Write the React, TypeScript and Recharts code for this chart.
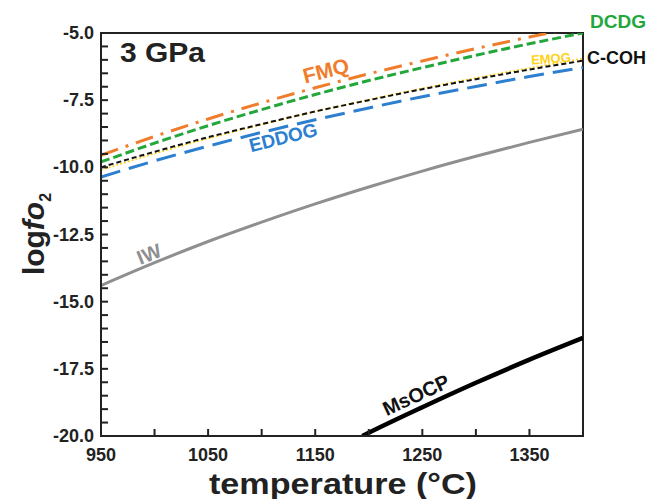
import { LineChart, Line, XAxis, YAxis } from 'recharts'

const temps = [950, 1000, 1050, 1100, 1150, 1200, 1250, 1300, 1350, 1400]
const fmq = [-9.55, -8.85, -8.2, -7.6, -7.04, -6.52, -6.04, -5.58, -5.15, -4.75]
const dcdg = [-9.8, -9.1, -8.45, -7.85, -7.29, -6.77, -6.29, -5.83, -5.4, -5.0]
const ccoh = [-10.0, -9.42, -8.88, -8.39, -7.92, -7.5, -7.09, -6.72, -6.36, -6.03]
const emog = [-10.1, -9.49, -8.93, -8.41, -7.93, -7.48, -7.06, -6.67, -6.3, -5.95]
const eddog = [-10.36, -9.76, -9.21, -8.7, -8.23, -7.79, -7.37, -6.99, -6.62, -6.28]
const iw = [-14.4, -13.55, -12.76, -12.04, -11.36, -10.73, -10.14, -9.59, -9.07, -8.58]
const msocpTemps = [1194, 1200, 1250, 1300, 1350, 1400]
const msocp = [-20.0, -19.88, -18.93, -18.02, -17.16, -16.35]

const xTicks = [950, 1000, 1050, 1100, 1150, 1200, 1250, 1300, 1350, 1400]
const xLabels = [950, 1050, 1150, 1250, 1350]
const yTicks = [-20, -19.5, -19, -18.5, -18, -17.5, -17, -16.5, -16, -15.5, -15, -14.5, -14, -13.5, -13, -12.5, -12, -11.5, -11, -10.5, -10, -9.5, -9, -8.5, -8, -7.5, -7, -6.5, -6, -5.5, -5]
const yLabels = [-20, -17.5, -15, -12.5, -10, -7.5, -5]

const W = 649
const H = 499
const LEFT = 101
const RIGHT = 583
const TOP = 33
const BOTTOM = 436
const FONT = '"Liberation Sans", Arial, sans-serif'
const AXIS = '#222'

const toRows = (xs: number[], ys: number[]) => xs.map((t, i) => ({ t, v: ys[i] }))

function YTick({ y, payload }: any) {
  const v = payload.value
  const major = yLabels.includes(v)
  return (
    <g>
      <rect x={LEFT} y={y - 1} width={7} height={2} fill={AXIS} />
      {major && (
        <text x={LEFT - 7} y={y} dy={6} textAnchor="end" fontSize={18} fontWeight="bold" fill="#222" fontFamily={FONT}>
          {v.toFixed(1)}
        </text>
      )}
    </g>
  )
}

function XTick({ x, payload }: any) {
  const v = payload.value
  const major = xLabels.includes(v)
  return (
    <g>
      <rect x={x - 1} y={BOTTOM - 7} width={2} height={7} fill={AXIS} />
      {major && (
        <text x={x} y={BOTTOM + 25} textAnchor="middle" fontSize={18} fontWeight="bold" fill="#222" fontFamily={FONT}>
          {v}
        </text>
      )}
    </g>
  )
}

export default function App() {
  return (
    <div style={{ position: 'absolute', left: 0, top: 0 }}>
      <LineChart width={W} height={H} margin={{ top: TOP, right: W - RIGHT, bottom: 0, left: 0 }}>
        <XAxis
          dataKey="t"
          type="number"
          domain={[950, 1400]}
          ticks={xTicks}
          allowDataOverflow
          height={H - BOTTOM}
          axisLine={{ stroke: AXIS, strokeWidth: 2 }}
          tickLine={false}
          tick={<XTick />}
          interval={0}
        />
        <YAxis
          type="number"
          domain={[-20, -5]}
          ticks={yTicks}
          allowDataOverflow
          width={LEFT}
          axisLine={{ stroke: AXIS, strokeWidth: 2 }}
          tickLine={false}
          tick={<YTick />}
          interval={0}
        />
        <rect x={LEFT} y={TOP} width={RIGHT - LEFT} height={BOTTOM - TOP} fill="none" stroke={AXIS} strokeWidth={2} />
        <Line data={toRows(temps, iw)} dataKey="v" type="monotone" stroke="#8f8f8f" strokeWidth={3} dot={false} isAnimationActive={false} />
        <Line data={toRows(msocpTemps, msocp)} dataKey="v" type="monotone" stroke="#000" strokeWidth={4.5} dot={false} isAnimationActive={false} />
        <Line data={toRows(temps, eddog)} dataKey="v" type="monotone" stroke="#2d7fcf" strokeWidth={3} strokeDasharray="20 9" dot={false} isAnimationActive={false} />
        <Line data={toRows(temps, emog)} dataKey="v" type="monotone" stroke="#ffd21a" strokeWidth={1.6} strokeDasharray="2 2" dot={false} isAnimationActive={false} />
        <Line data={toRows(temps, ccoh)} dataKey="v" type="monotone" stroke="#111" strokeWidth={2} strokeDasharray="5 3" dot={false} isAnimationActive={false} />
        <Line data={toRows(temps, dcdg)} dataKey="v" type="monotone" stroke="#23a73b" strokeWidth={3} strokeDasharray="9 4" dot={false} isAnimationActive={false} />
        <Line data={toRows(temps, fmq)} dataKey="v" type="monotone" stroke="#f07d2c" strokeWidth={3} strokeDasharray="18 8 3 8" dot={false} isAnimationActive={false} />

        <text x={120} y={62} fontSize={27} fontWeight="bold" fill="#222" fontFamily={FONT} textLength={85} lengthAdjust="spacingAndGlyphs">3 GPa</text>
        <text x={326} y={78} fontSize={21} fontWeight="bold" fill="#f07d2c" fontFamily={FONT} textAnchor="middle" transform="rotate(-14 326 71)">FMQ</text>
        <text x={283} y={144} fontSize={19} fontWeight="bold" fill="#2d7fcf" fontFamily={FONT} textAnchor="middle" transform="rotate(-14 283 137)">EDDOG</text>
        <text x={149} y={261} fontSize={20} fontWeight="bold" fill="#8f8f8f" fontFamily={FONT} textAnchor="middle" transform="rotate(-22 149 254)">IW</text>
        <text x={416} y={402} fontSize={20} fontWeight="bold" fill="#111" fontFamily={FONT} textAnchor="middle" transform="rotate(-25 416 395)">MsOCP</text>
        <text x={590} y={28} fontSize={19} fontWeight="bold" fill="#23a73b" fontFamily={FONT}>DCDG</text>
        <text x={587} y={64} fontSize={18} fontWeight="bold" fill="#111" fontFamily={FONT}>C-COH</text>
        <text x={531} y={63} fontSize={13} fontWeight="bold" fill="#ffd21a" fontFamily={FONT} transform="rotate(-4 553 58)">EMOG</text>

        <text x={343} y={494} fontSize={30} fontWeight="bold" fill="#222" fontFamily={FONT} textAnchor="middle" textLength={268} lengthAdjust="spacingAndGlyphs">temperature (°C)</text>
        <text x={0} y={0} fontSize={30} fontWeight="bold" fill="#222" fontFamily={FONT} textAnchor="middle" transform="translate(44 234) rotate(-90)">
          log<tspan fontStyle="italic">fo</tspan>
          <tspan fontSize={16} dy={7}>2</tspan>
        </text>
      </LineChart>
    </div>
  )
}
